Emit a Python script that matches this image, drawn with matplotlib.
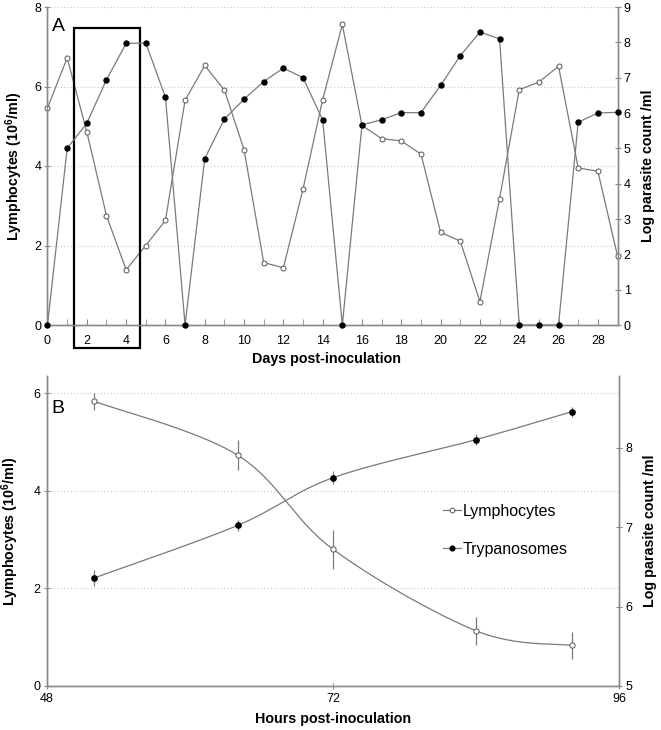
import numpy as np
import matplotlib
matplotlib.use("Agg")
import matplotlib.pyplot as plt
from matplotlib.patches import Rectangle
from matplotlib.lines import Line2D

plt.rcParams['font.family'] = ['Liberation Sans', 'DejaVu Sans']
plt.rcParams['mathtext.fontset'] = 'custom'
plt.rcParams['mathtext.rm'] = 'Liberation Sans'
plt.rcParams['mathtext.bf'] = 'Liberation Sans:bold'

# Panel A: daily values over 30 days
days = list(range(30))
lymph_daily = [5.46, 6.72, 4.86, 2.75, 1.39, 2.00, 2.63, 5.65, 6.53, 5.91,
               4.41, 1.57, 1.44, 3.42, 5.67, 7.56, 5.02, 4.69, 4.63, 4.30,
               2.33, 2.11, 0.59, 3.18, 5.92, 6.11, 6.51, 3.95, 3.87, 1.74]
tryp_daily = [0.0, 5.00, 5.71, 6.94, 7.97, 7.98, 6.45, 0.0, 4.71, 5.83,
              6.39, 6.89, 7.27, 7.00, 5.80, 0.0, 5.66, 5.81, 6.01, 6.01,
              6.78, 7.62, 8.29, 8.10, 0.0, 0.0, 0.0, 5.74, 6.00, 6.02]

# Panel B: means +/- error over the 48-96 h window
hours = [52, 64, 72, 84, 92]
lymph_hourly = [5.83, 4.73, 2.80, 1.13, 0.83]
lymph_err = [0.18, 0.30, 0.40, 0.29, 0.27]
tryp_hourly = [6.36, 7.02, 7.62, 8.10, 8.45]
tryp_err = [0.10, 0.07, 0.08, 0.07, 0.06]

LINE = '#7a7a7a'
SPINE = '#8a8a8a'
GRID = '#c8c8c8'
TICK_SIZE = 9
LABEL_SIZE = 10.3


def smooth_curve(x, y, steps=40):
    """Spreadsheet-style smoothed line (cubic Bezier through every point)"""
    pts = np.column_stack([np.asarray(x, float), np.asarray(y, float)])
    n = len(pts)
    t = np.linspace(0, 1, steps)[:, None]
    parts = []
    for i in range(n - 1):
        p0 = pts[max(i - 1, 0)]
        p1, p2 = pts[i], pts[i + 1]
        p3 = pts[min(i + 2, n - 1)]
        c1 = p1 + (p2 - p0) / 6
        c2 = p2 - (p3 - p1) / 6
        seg = ((1 - t) ** 3) * p1 + 3 * ((1 - t) ** 2) * t * c1 \
            + 3 * (1 - t) * t ** 2 * c2 + t ** 3 * p2
        parts.append(seg if i == 0 else seg[1:])
    out = np.vstack(parts)
    return out[:, 0], out[:, 1]


def style_axes(ax, ax_r, x_dir):
    for a in (ax, ax_r):
        a.spines['top'].set_visible(False)
        for side in ('left', 'right', 'bottom'):
            a.spines[side].set_color(SPINE)
            a.spines[side].set_linewidth(1.0)
    ax.tick_params(axis='y', direction='inout', length=5, color=SPINE,
                   labelsize=TICK_SIZE, pad=2)
    ax_r.tick_params(axis='y', direction='inout', length=5, color=SPINE,
                     labelsize=TICK_SIZE, pad=2)
    ax.tick_params(axis='x', direction=x_dir, length=4, color=SPINE,
                   labelsize=TICK_SIZE)
    ax.yaxis.grid(True, linestyle=(0, (1, 2)), color=GRID, linewidth=0.8)
    ax.set_axisbelow(True)


fig = plt.figure(figsize=(6.61, 7.30), dpi=100)

# ---- Panel A ----
ax_a = fig.add_axes([47.5 / 661, 1 - 325 / 730, 570 / 661, 318 / 730])
ax_ar = ax_a.twinx()
style_axes(ax_a, ax_ar, 'in')

ax_a.plot(days, lymph_daily, color=LINE, lw=0.9, marker='o', ms=3.6,
          mfc='white', mec='#555555', mew=0.7, clip_on=False, zorder=3)
ax_ar.plot(days, tryp_daily, color=LINE, lw=0.9, marker='o', ms=3.6,
           mfc='black', mec='black', clip_on=False, zorder=3)

ax_a.set_xlim(0, 29)
ax_a.set_ylim(0, 8)
ax_ar.set_ylim(0, 9)
ax_a.set_xticks(range(0, 29, 2))
ax_a.set_xticks(range(0, 30), minor=True)
ax_a.tick_params(axis='x', which='minor', direction='in', length=4,
                 color=SPINE)
ax_a.tick_params(axis='x', pad=7)
ax_a.set_yticks(range(0, 9, 2))
ax_ar.set_yticks(range(0, 10))

# highlighted window (days 2-4)
ax_a.add_patch(Rectangle((1.35, -0.58), 3.36, 8.06, fill=False,
                         edgecolor='black', lw=1.6, clip_on=False, zorder=5))

ax_a.text(0.008, 0.925, 'A', transform=ax_a.transAxes, fontsize=14)
ax_a.set_xlabel('Days post-inoculation', fontsize=LABEL_SIZE,
                fontweight='bold')
ax_a.xaxis.set_label_coords(0.49, -0.085)
ax_a.set_ylabel(r'Lymphocytes (10$^{\mathbf{6}}$/ml)', fontsize=LABEL_SIZE,
                fontweight='bold')
ax_a.yaxis.set_label_coords(-0.04, 0.5)
ax_ar.set_ylabel('Log parasite count /ml', fontsize=LABEL_SIZE,
                 fontweight='bold')
ax_ar.yaxis.set_label_coords(1.042, 0.5)

# ---- Panel B ----
ax_b = fig.add_axes([46.7 / 661, 1 - 686 / 730, 572.6 / 661, 310 / 730])
ax_br = ax_b.twinx()
style_axes(ax_b, ax_br, 'inout')

sx, sy = smooth_curve(hours, lymph_hourly)
ax_b.plot(sx, sy, color=LINE, lw=0.9, zorder=2)
ax_b.errorbar(hours, lymph_hourly, yerr=lymph_err, fmt='none',
              ecolor=LINE, elinewidth=0.9, capsize=0, zorder=2)
ax_b.plot(hours, lymph_hourly, 'o', ms=3.8, mfc='white', mec='#555555',
          mew=0.7, zorder=3)

sx, sy = smooth_curve(hours, tryp_hourly)
ax_br.plot(sx, sy, color=LINE, lw=0.9, zorder=2)
ax_br.errorbar(hours, tryp_hourly, yerr=tryp_err, fmt='none',
               ecolor=LINE, elinewidth=0.9, capsize=0, zorder=2)
ax_br.plot(hours, tryp_hourly, 'o', ms=3.8, mfc='black', mec='black',
           zorder=3)

ax_b.set_xlim(48, 96)
ax_b.set_xticks([48, 72, 96])
ax_b.tick_params(axis='x', pad=3)
ax_b.set_ylim(0, 6.35)
ax_b.set_yticks(range(0, 7, 2))
ax_br.set_ylim(5, 8.9)
ax_br.set_yticks(range(5, 9))

ax_b.text(0.009, 0.881, 'B', transform=ax_b.transAxes, fontsize=14)
ax_b.set_xlabel('Hours post-inoculation', fontsize=LABEL_SIZE,
                fontweight='bold')
ax_b.xaxis.set_label_coords(0.5, -0.084)
ax_b.set_ylabel(r'Lymphocytes (10$^{\mathbf{6}}$/ml)', fontsize=LABEL_SIZE,
                fontweight='bold')
ax_b.yaxis.set_label_coords(-0.045, 0.5)
ax_br.set_ylabel('Log parasite count /ml', fontsize=LABEL_SIZE,
                 fontweight='bold')
ax_br.yaxis.set_label_coords(1.042, 0.5)

handles = [
    Line2D([], [], color=LINE, lw=0.9, marker='o', ms=3.4, mfc='white',
           mec='#555555', mew=0.7),
    Line2D([], [], color=LINE, lw=0.9, marker='o', ms=3.4, mfc='black',
           mec='black'),
]
fig.legend(handles, ['Lymphocytes', 'Trypanosomes'], loc='upper left',
           bbox_to_anchor=(443 / 661, 1 - 504 / 730), frameon=False,
           fontsize=11.5, handlelength=1.1, handletextpad=0.15,
           labelspacing=1.44, borderpad=0, borderaxespad=0)

fig.savefig('out.png', dpi=100)
